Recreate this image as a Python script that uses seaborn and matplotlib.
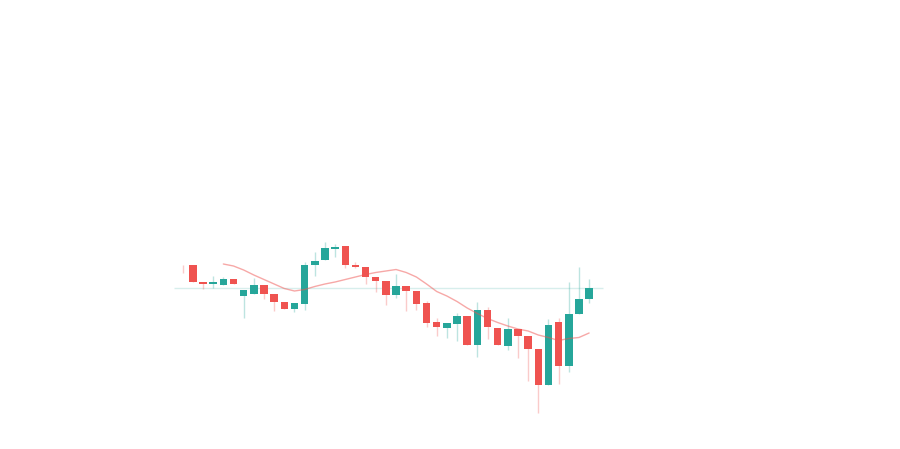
import numpy as np
import pandas as pd
import matplotlib
matplotlib.use("Agg")
import matplotlib.pyplot as plt
import seaborn as sns

# ---- data (candles, index 0..40) ----
opens = [180.0, 184.3, 167.0, 165.0, 163.7, 170.0, 153.3, 154.7, 164.3, 155.0,
         146.7, 139.7, 145.0, 184.3, 188.7, 200.3, 203.0, 184.3, 182.0, 172.3,
         168.0, 154.3, 163.3, 157.7, 145.7, 126.7, 121.3, 125.0, 132.7, 103.7,
         139.0, 121.3, 103.0, 120.0, 113.3, 100.0, 64.3, 126.7, 82.7, 135.3, 150.0]
highs = [184.0, 184.3, 167.0, 173.0, 172.0, 170.0, 159.3, 171.0, 164.3, 155.0,
         146.7, 145.7, 187.0, 197.0, 206.7, 205.0, 203.0, 187.3, 182.0, 172.3,
         168.0, 175.0, 163.3, 157.7, 148.0, 131.3, 125.7, 135.7, 132.7, 146.7,
         142.3, 121.3, 130.7, 120.0, 113.3, 100.0, 129.7, 130.7, 167.3, 182.3, 169.7]
lows = [175.7, 166.7, 160.0, 161.3, 163.7, 165.0, 130.7, 154.7, 150.0, 138.0,
        139.7, 137.3, 139.0, 173.0, 188.7, 192.3, 180.7, 181.0, 164.7, 157.3,
        144.0, 151.3, 138.0, 139.0, 122.3, 113.0, 111.3, 108.0, 103.7, 91.7,
        109.7, 103.7, 99.0, 91.0, 68.3, 35.7, 64.3, 64.7, 76.7, 135.3, 146.3]
closes = [180.0, 166.7, 164.7, 166.7, 170.0, 165.0, 159.3, 164.3, 154.7, 146.7,
          139.7, 145.7, 184.3, 188.0, 200.7, 202.0, 184.3, 182.3, 172.3, 167.7,
          154.0, 163.3, 157.7, 145.0, 125.7, 121.7, 125.7, 132.7, 103.7, 139.0,
          122.0, 103.7, 120.3, 113.0, 99.7, 64.3, 123.7, 83.3, 135.0, 149.7, 161.3]

# moving average line (starts at candle index 4)
ma_start = 4
ma_values = [185.0, 183.0, 179.0, 174.0, 169.5, 165.0, 160.5, 158.0, 159.5, 162.5,
             165.0, 167.0, 169.5, 172.0, 174.5, 176.5, 178.0, 179.5, 176.5, 172.0,
             165.0, 157.5, 153.0, 147.5, 141.0, 135.5, 130.5, 126.5, 123.0, 120.0,
             118.0, 114.0, 111.5, 108.5, 110.5, 111.5, 116.0]

UP = "#26a69a"
DOWN = "#ef5350"

df = pd.DataFrame({"open": opens, "high": highs, "low": lows, "close": closes})
df["idx"] = np.arange(len(df))
df["up"] = df["close"] > df["open"]
df["color"] = np.where(df["up"], UP, DOWN)

ma_df = pd.DataFrame({"idx": np.arange(ma_start, ma_start + len(ma_values)),
                      "ma": ma_values})

sns.set_theme(style="white")
fig = plt.figure(figsize=(9.0, 4.49), dpi=100)
ax = fig.add_axes([0, 0, 1, 1])
ax.set_facecolor("white")

# last price line
ax.hlines(closes[-1], -0.85, len(df) - 1 + 1.4, color=UP, alpha=0.18, lw=1, zorder=1)

# wicks
ax.vlines(df["idx"], df["low"], df["high"], colors=df["color"], alpha=0.3,
          lw=1, zorder=2)

# bodies
body_bottom = np.minimum(df["open"], df["close"])
body_height = np.abs(df["close"] - df["open"])
ax.bar(df["idx"], body_height, bottom=body_bottom, width=0.74,
       color=df["color"], linewidth=0, zorder=3)

# moving average
sns.lineplot(data=ma_df, x="idx", y="ma", ax=ax, color=DOWN, alpha=0.5,
             lw=1, zorder=4, legend=False)

ax.set_xlim(-182.7 / 10.16, (900 - 182.7) / 10.16)
ax.set_ylim(0, 449)
ax.axis("off")

fig.savefig("out.png", dpi=100, facecolor="white")
